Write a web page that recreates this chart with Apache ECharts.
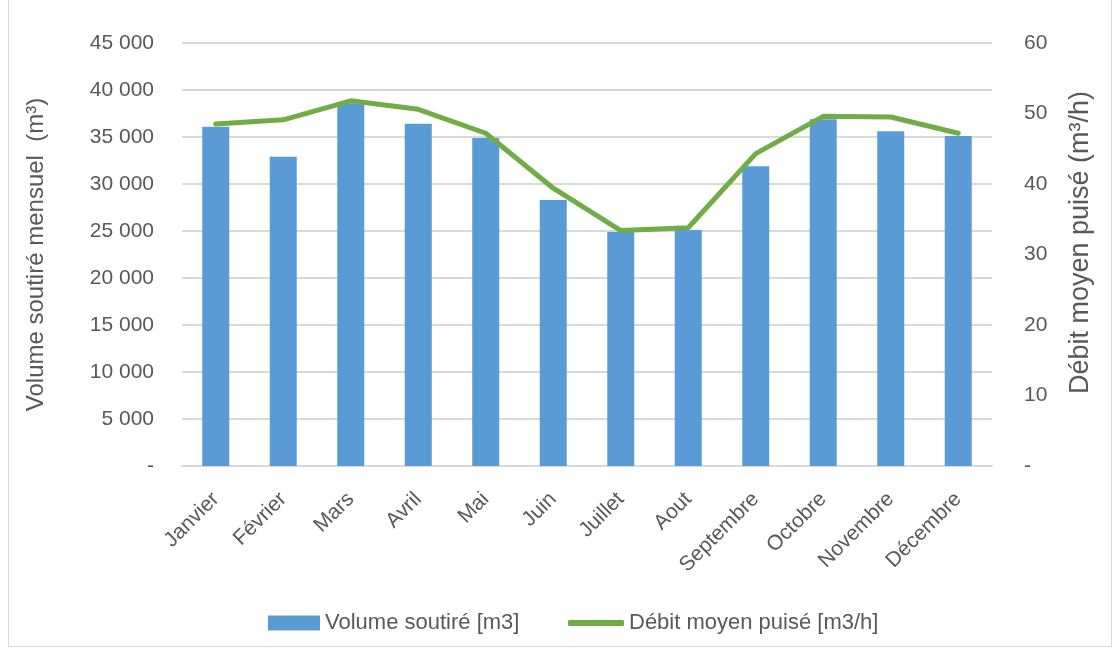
<!DOCTYPE html>
<html>
<head>
<meta charset="utf-8">
<script src="https://cdn.jsdelivr.net/npm/echarts@6/dist/echarts.min.js"></script>
<style>
    html, body { margin: 0; padding: 0; background: #fff; }
    #frame { position: absolute; left: 8px; top: 0px; width: 1104px; height: 647px; border: 1px solid #d9d9d9; border-top: none; box-sizing: border-box; }
    #chart { position: absolute; left: 0; top: 0; width: 1117px; height: 651px; }
</style>
</head>
<body>
<div id="frame"></div>
<div id="chart"></div>
<script>
    const months = ['Janvier', 'Février', 'Mars', 'Avril', 'Mai', 'Juin', 'Juillet', 'Aout', 'Septembre', 'Octobre', 'Novembre', 'Décembre'];
    const volume = [36100, 32900, 38600, 36400, 34900, 28300, 24900, 25100, 31900, 36900, 35600, 35100];
    const debit = [48.5, 49.1, 51.8, 50.6, 47.2, 39.4, 33.4, 33.8, 44.3, 49.6, 49.5, 47.2];

    const font = 'Liberation Sans';
    const grey = '#595959';
    const blue = '#5b9bd5';
    const green = '#70ad47';

    function fmtThousands(v) {
        if (v === 0) return '-';
        return String(v).replace(/\B(?=(\d{3})+(?!\d))/g, ' ');
    }

    let myChart = echarts.init(document.getElementById('chart'));
    let option = {
        animation: false,
        textStyle: {fontFamily: font},
        // two legends so the line key can be drawn as a thin bar
        legend: [
            {
                left: 263,
                top: 607,
                itemWidth: 52,
                itemHeight: 15,
                textStyle: {fontSize: 22, color: grey, fontFamily: font},
                data: [{name: 'Volume soutiré [m3]', icon: 'rect'}]
            },
            {
                left: 563,
                top: 607,
                itemWidth: 56,
                itemHeight: 6,
                textStyle: {fontSize: 22, color: grey, fontFamily: font},
                data: [{name: 'Débit moyen puisé [m3/h]', icon: 'roundRect', itemStyle: {color: green}}]
            }
        ],
        grid: {left: 182, right: 125, top: 43, bottom: 185},
        xAxis: [{
            type: 'category',
            data: months,
            axisLine: {lineStyle: {color: '#d9d9d9', width: 2}},
            axisTick: {show: false},
            axisLabel: {rotate: 45, color: grey, fontSize: 21, margin: 30, fontFamily: font}
        }],
        yAxis: [
            {
                type: 'value',
                min: 0, max: 45000, interval: 5000,
                name: 'Volume soutiré mensuel  (m³)',
                nameLocation: 'middle',
                nameGap: 134,
                nameTextStyle: {fontSize: 24, color: grey, fontFamily: font},
                axisLine: {show: false},
                axisTick: {show: false},
                axisLabel: {color: grey, fontSize: 21, margin: 28, formatter: fmtThousands, fontFamily: font},
                splitLine: {lineStyle: {color: '#d9d9d9', width: 2}}
            },
            {
                type: 'value',
                min: 0, max: 60, interval: 10,
                name: 'Débit moyen puisé (m³/h)',
                nameLocation: 'middle',
                nameGap: 75,
                nameRotate: 90,
                nameTextStyle: {fontSize: 27, color: grey, fontFamily: font, padding: [0, 0, 0, 24]},
                axisLine: {show: false},
                axisTick: {show: false},
                axisLabel: {color: grey, fontSize: 21, margin: 32, formatter: v => v === 0 ? '-' : v, fontFamily: font},
                splitLine: {show: false}
            }
        ],
        series: [
            {
                name: 'Volume soutiré [m3]',
                type: 'bar',
                data: volume,
                barWidth: 27,
                itemStyle: {color: blue}
            },
            {
                name: 'Débit moyen puisé [m3/h]',
                type: 'line',
                yAxisIndex: 1,
                data: debit,
                symbol: 'none',
                lineStyle: {color: green, width: 5, cap: 'round'},
                itemStyle: {color: green}
            }
        ]
    };
    myChart.setOption(option);
</script>
</body>
</html>
